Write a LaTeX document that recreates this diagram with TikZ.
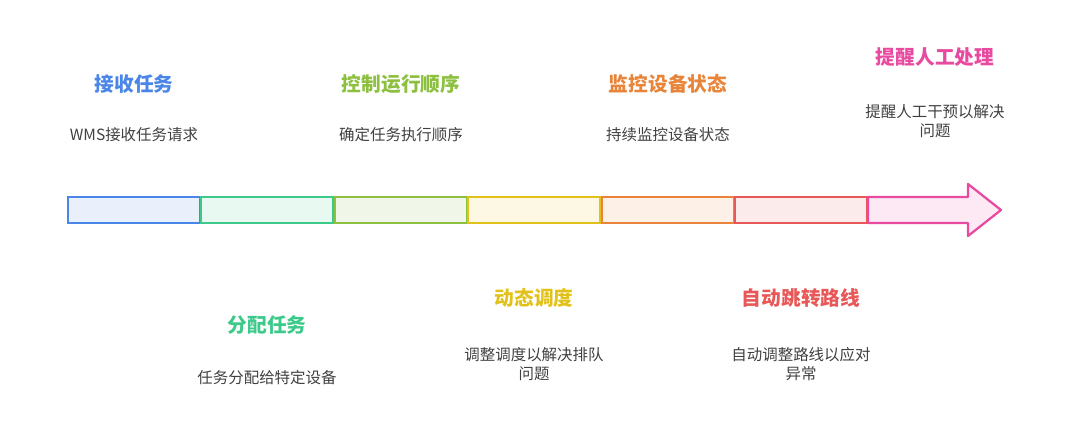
\documentclass[tikz,border=0pt]{standalone}
\usepackage{fontspec}
\setmainfont{Noto Sans CJK SC}
\usetikzlibrary{positioning}
\definecolor{cblue}{HTML}{4A86E8}
\definecolor{cteal}{HTML}{3CC98A}
\definecolor{clime}{HTML}{8DC040}
\definecolor{cyell}{HTML}{E2C21A}
\definecolor{corng}{HTML}{E8853A}
\definecolor{cred}{HTML}{E85858}
\definecolor{cpink}{HTML}{E84AA0}
\tikzset{
  seg/.style={draw=#1,fill=#1!12,line width=1.6pt,minimum width=3.3cm,minimum height=0.66cm,inner sep=0pt},
  ttl/.style={text=#1,font=\bfseries\fontsize{14}{16}\selectfont},
  dsc/.style={text=black!75,font=\fontsize{11}{14}\selectfont,align=center}
}
\begin{document}
\begin{tikzpicture}[x=0.025cm,y=-0.025cm]
        \useasboundingbox (0,0) rectangle (1080,447);
        \node[seg=cblue] (s1) at (134,210) {};
        \node[seg=cteal] (s2) at (267,210) {};
        \node[seg=clime] (s3) at (401,210) {};
        \node[seg=cyell] (s4) at (534,210) {};
        \node[seg=corng] (s5) at (668,210) {};
        \node[seg=cred] (s6) at (801,210) {};
        \draw[cpink,fill=cpink!12,line width=1.6pt,line join=round]
            (868,197) -- (968,197) -- (968,184) -- (1001,210) -- (968,236) -- (968,223) -- (868,223) -- cycle;
        % upper labels
        \node[ttl=cblue] (t1) at (134,84) {接收任务};
        \node[dsc] (d1) at (134,135) {WMS接收任务请求};
        \node[ttl=clime] (t3) at (401,84) {控制运行顺序};
        \node[dsc] (d3) at (401,135) {确定任务执行顺序};
        \node[ttl=corng] (t5) at (668,84) {监控设备状态};
        \node[dsc] (d5) at (668,135) {持续监控设备状态};
        \node[ttl=cpink] (t7) at (935,57) {提醒人工处理};
        \node[dsc] (d7) at (935,121) {提醒人工干预以解决\\问题};
        % lower labels
        \node[ttl=cteal] (t2) at (267,325) {分配任务};
        \node[dsc] (d2) at (267,378) {任务分配给特定设备};
        \node[ttl=cyell] (t4) at (534,298) {动态调度};
        \node[dsc] (d4) at (534,364) {调整调度以解决排队\\问题};
        \node[ttl=cred] (t6) at (801,298) {自动跳转路线};
        \node[dsc] (d6) at (801,364) {自动调整路线以应对\\异常};
\end{tikzpicture}
\end{document}
